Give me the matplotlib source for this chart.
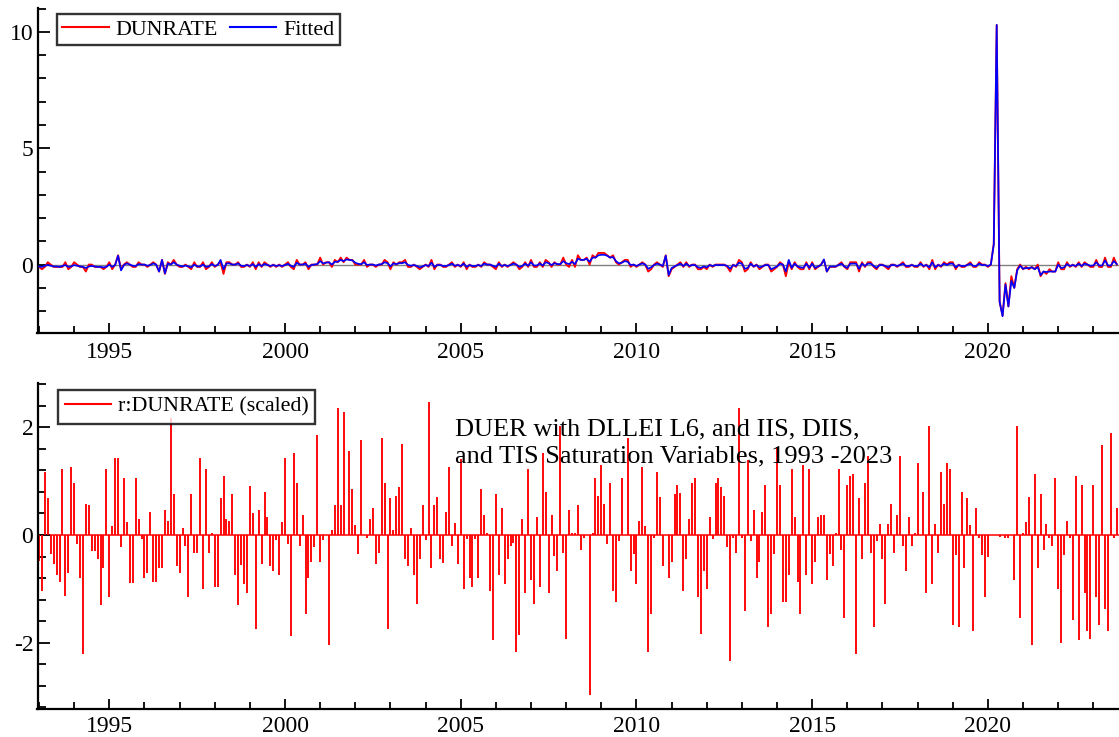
import numpy as np
import matplotlib
matplotlib.use("Agg")
import matplotlib.pyplot as plt
from matplotlib.ticker import MultipleLocator, FixedLocator
from matplotlib.lines import Line2D

plt.rcParams['font.family'] = ['Liberation Serif', 'DejaVu Serif']
plt.rcParams['axes.unicode_minus'] = False

# ---------------- data (monthly, 1993(1) - 2023(9)) ----------------
start_year = 1993

dunrate = [
    -0.1, -0.2, -0.1, 0.1, 0.0, -0.1, -0.1, -0.1, -0.1, 0.1, -0.2, -0.1,   # 1993
    0.1, 0.0, -0.1, -0.1, -0.3, 0.0, 0.0, -0.1, -0.1, -0.1, -0.2, -0.1,    # 1994
    0.1, -0.2, 0.0, 0.4, -0.2, 0.0, 0.1, 0.0, -0.1, -0.1, 0.1, 0.0,        # 1995
    0.0, -0.1, 0.0, 0.1, 0.0, -0.3, 0.2, -0.4, 0.1, 0.0, 0.2, 0.0,         # 1996
    -0.1, -0.1, 0.0, -0.1, -0.2, 0.1, -0.1, -0.1, 0.1, -0.2, -0.1, 0.1,    # 1997
    -0.1, 0.0, 0.1, -0.4, 0.1, 0.1, 0.0, 0.0, 0.1, -0.1, -0.1, 0.0,        # 1998
    -0.1, 0.1, -0.2, 0.1, -0.1, 0.1, 0.0, -0.1, 0.0, -0.1, 0.0, -0.1,      # 1999
    0.0, 0.1, -0.1, -0.2, 0.2, 0.0, 0.0, 0.1, -0.2, 0.0, 0.0, 0.0,         # 2000
    0.3, 0.0, 0.1, 0.1, -0.1, 0.2, 0.1, 0.3, 0.1, 0.3, 0.2, 0.2,           # 2001
    0.0, 0.0, 0.0, 0.2, -0.1, 0.0, 0.0, -0.1, 0.0, 0.0, 0.2, 0.1,          # 2002
    -0.2, 0.1, 0.0, 0.1, 0.1, 0.2, -0.1, -0.1, 0.0, -0.1, -0.2, -0.1,      # 2003
    0.0, -0.1, 0.2, -0.2, 0.0, 0.0, -0.1, -0.1, 0.0, 0.1, -0.1, 0.0,       # 2004
    -0.1, 0.1, -0.2, 0.0, -0.1, -0.1, 0.0, -0.1, 0.1, 0.0, 0.0, -0.1,      # 2005
    -0.2, 0.1, -0.1, 0.0, -0.1, 0.0, 0.1, 0.0, -0.2, -0.1, 0.1, -0.1,      # 2006
    0.2, -0.1, -0.1, 0.1, -0.1, 0.2, 0.1, -0.1, 0.1, 0.0, 0.0, 0.3,        # 2007
    0.0, -0.1, 0.2, -0.1, 0.4, 0.2, 0.2, 0.3, 0.0, 0.4, 0.3, 0.5,          # 2008
    0.5, 0.5, 0.4, 0.3, 0.4, 0.1, 0.0, 0.1, 0.2, 0.2, -0.1, 0.0,           # 2009
    -0.1, 0.0, 0.1, 0.0, -0.3, -0.2, 0.0, 0.1, 0.0, -0.1, 0.4, -0.5,       # 2010
    -0.2, -0.1, 0.0, 0.1, -0.1, 0.1, -0.1, 0.0, 0.0, -0.2, -0.2, -0.1,     # 2011
    -0.2, 0.0, -0.1, 0.0, 0.0, 0.0, 0.0, -0.1, -0.3, 0.0, -0.1, 0.2,       # 2012
    0.1, -0.3, -0.2, 0.1, -0.1, 0.0, -0.2, -0.1, 0.0, 0.0, -0.3, -0.2,     # 2013
    -0.1, 0.1, 0.0, -0.5, 0.1, -0.2, 0.1, -0.1, -0.2, -0.2, 0.1, -0.2,     # 2014
    0.1, -0.2, -0.1, 0.0, 0.2, -0.3, -0.1, -0.1, -0.1, 0.0, 0.1, -0.1,     # 2015
    -0.2, 0.1, 0.1, 0.1, -0.3, 0.1, -0.1, 0.1, 0.1, -0.1, -0.2, 0.0,       # 2016
    0.0, -0.1, -0.2, 0.0, 0.0, -0.1, 0.0, 0.1, -0.1, -0.1, 0.0, -0.1,      # 2017
    -0.1, 0.1, -0.1, 0.0, -0.2, 0.2, -0.2, 0.0, -0.1, 0.1, 0.0, 0.1,       # 2018
    0.1, -0.2, 0.0, -0.1, -0.1, 0.0, 0.1, -0.1, -0.1, 0.1, 0.0, 0.0,       # 2019
    -0.1, 0.0, 0.9, 10.3, -1.6, -2.2, -0.8, -1.8, -0.5, -1.0, -0.2, 0.0,   # 2020
    -0.2, -0.1, -0.2, -0.1, -0.2, 0.0, -0.5, -0.3, -0.4, -0.2, -0.3, -0.3, # 2021
    0.1, -0.2, -0.2, 0.1, -0.1, 0.0, -0.1, 0.1, -0.1, 0.1, 0.0, -0.1,      # 2022
    -0.1, 0.2, -0.1, -0.1, 0.3, -0.1, -0.1, 0.3, 0.0,                      # 2023
]

fitted = [
    -0.08, -0.10, -0.05, -0.02, -0.05, -0.08, -0.08, -0.10, -0.06, -0.02, -0.10, -0.08,  # 1993
    -0.02, -0.05, -0.08, -0.10, -0.15, -0.08, -0.06, -0.08, -0.10, -0.10, -0.12, -0.10,  # 1994
    0.00, -0.10, -0.02, 0.38, -0.25, -0.02, 0.05, 0.00, -0.05, -0.06, 0.02, 0.00,        # 1995
    0.00, -0.05, -0.02, 0.05, 0.00, -0.30, 0.20, -0.38, 0.05, 0.00, 0.10, 0.00,          # 1996
    -0.05, -0.08, -0.04, -0.08, -0.12, 0.00, -0.08, -0.08, 0.00, -0.10, -0.08, 0.02,     # 1997
    -0.06, -0.02, 0.20, -0.20, 0.05, 0.05, 0.00, 0.00, 0.05, -0.05, -0.06, -0.02,        # 1998
    -0.06, 0.02, -0.10, 0.02, -0.06, 0.03, -0.02, -0.06, -0.02, -0.06, -0.03, -0.06,     # 1999
    -0.02, 0.03, -0.05, -0.10, 0.08, 0.00, 0.00, 0.04, -0.10, -0.02, 0.00, 0.02,         # 2000
    0.15, 0.05, 0.08, 0.10, 0.00, 0.12, 0.12, 0.20, 0.15, 0.22, 0.20, 0.18,              # 2001
    0.08, 0.03, 0.02, 0.10, -0.02, 0.00, 0.00, -0.04, 0.00, 0.02, 0.10, 0.06,            # 2002
    -0.08, 0.05, 0.02, 0.06, 0.06, 0.10, -0.02, -0.05, -0.02, -0.06, -0.12, -0.08,       # 2003
    -0.02, -0.06, 0.08, -0.10, -0.02, -0.02, -0.06, -0.06, -0.02, 0.04, -0.05, -0.02,    # 2004
    -0.06, 0.04, -0.10, -0.02, -0.06, -0.06, -0.02, -0.06, 0.04, 0.00, 0.00, -0.05,      # 2005
    -0.10, 0.04, -0.06, -0.02, -0.06, -0.02, 0.04, 0.00, -0.10, -0.06, 0.04, -0.05,      # 2006
    0.10, -0.04, -0.04, 0.05, -0.04, 0.10, 0.06, -0.02, 0.06, 0.02, 0.02, 0.15,          # 2007
    0.06, 0.02, 0.12, 0.02, 0.25, 0.20, 0.20, 0.25, 0.12, 0.30, 0.30, 0.40,              # 2008
    0.42, 0.42, 0.38, 0.30, 0.32, 0.15, 0.05, 0.08, 0.15, 0.12, -0.02, 0.00,             # 2009
    -0.06, 0.00, 0.05, 0.00, -0.18, -0.12, -0.02, 0.04, 0.00, -0.06, 0.38, -0.45,        # 2010
    -0.15, -0.08, -0.02, 0.04, -0.06, 0.04, -0.06, -0.02, -0.02, -0.12, -0.14, -0.08,    # 2011
    -0.12, -0.02, -0.06, -0.02, -0.02, -0.02, -0.02, -0.06, -0.18, -0.02, -0.06, 0.08,   # 2012
    0.04, -0.18, -0.14, 0.04, -0.08, -0.02, -0.12, -0.08, -0.02, -0.02, -0.20, -0.14,    # 2013
    -0.08, 0.04, 0.00, -0.30, 0.20, -0.14, 0.04, -0.08, -0.12, -0.14, 0.04, -0.14,       # 2014
    0.04, -0.14, -0.08, -0.02, 0.22, -0.30, -0.08, -0.08, -0.08, -0.02, 0.04, -0.08,     # 2015
    -0.14, 0.04, 0.04, 0.04, -0.18, 0.04, -0.06, 0.04, 0.04, -0.06, -0.14, -0.02,        # 2016
    -0.02, -0.06, -0.12, -0.02, -0.02, -0.06, -0.02, 0.04, -0.06, -0.06, -0.02, -0.06,   # 2017
    -0.06, 0.04, -0.06, -0.02, -0.12, 0.10, -0.12, -0.02, -0.06, 0.04, -0.02, 0.04,      # 2018
    0.04, -0.12, -0.02, -0.06, -0.06, -0.02, 0.04, -0.06, -0.06, 0.04, -0.02, -0.02,     # 2019
    -0.06, 0.00, 0.86, 10.30, -1.60, -2.22, -0.86, -1.80, -0.70, -1.00, -0.25, -0.05,    # 2020
    -0.18, -0.15, -0.15, -0.12, -0.20, -0.10, -0.45, -0.30, -0.32, -0.30, -0.30, -0.30,  # 2021
    0.00, -0.15, -0.12, 0.02, -0.06, -0.02, -0.06, 0.04, -0.06, 0.04, 0.00, -0.05,       # 2022
    -0.04, 0.10, -0.04, -0.04, 0.18, -0.04, -0.04, 0.15, 0.02,                           # 2023
]

resid_scaled = [
    -0.48, -1.05, 1.18, 0.68, -0.36, -0.53, -0.74, -0.87, 1.23, -1.13, -0.70, 1.26,   # 1993
    0.96, -0.16, -0.80, -2.21, 0.58, 0.55, -0.30, -0.30, -0.45, -1.30, -0.62, 1.23,   # 1994
    -1.16, 0.17, 1.43, 1.43, -0.23, 1.06, 0.25, -0.90, -0.90, 1.06, 0.30, -0.08,      # 1995
    -0.79, -0.70, 0.43, -0.87, -0.87, -0.62, -0.62, 0.47, 0.26, 2.17, 0.76, -0.58,    # 1996
    -0.70, 0.13, -0.20, -1.16, 0.76, -0.33, -0.33, 1.43, -1.00, 1.23, -0.33, 0.04,    # 1997
    -0.96, -0.96, 0.68, 1.09, 0.30, 0.26, 0.76, -0.75, -1.30, -0.55, -0.92, -1.08,    # 1998
    0.92, 0.41, -1.75, 0.47, -0.53, 0.80, 0.33, -0.58, -0.66, -0.10, -0.75, 0.25,     # 1999
    1.43, -0.16, -1.88, 1.52, 0.96, -0.20, 0.38, -1.46, -0.79, -0.50, -0.23, 1.86,    # 2000
    -0.50, -0.10, 0.00, -2.04, 0.09, 0.55, 2.36, 0.55, 2.28, 0.00, 1.56, 0.85,        # 2001
    0.18, -0.36, 1.77, 0.00, -0.05, 0.30, 0.51, -0.53, -0.33, 1.81, 0.97, -1.75,      # 2002
    0.68, 0.10, 0.72, 0.89, 1.69, -0.45, -0.58, 0.13, -0.75, -1.29, -0.45, 0.55,      # 2003
    -0.10, 2.48, -0.62, 0.55, 0.71, -0.45, -0.52, 0.43, 1.26, -0.20, 0.22, -0.53,     # 2004
    1.42, -1.00, -0.08, -0.79, -0.96, -0.08, -0.79, 0.85, 0.38, 0.03, -1.04, -1.96,   # 2005
    0.76, -0.75, 0.51, -0.91, -0.45, -0.20, -0.15, -2.17, -1.86, 0.29, -1.08, 1.23,   # 2006
    -0.83, -1.29, 0.33, -0.96, 1.52, 0.80, -1.08, 0.38, -0.39, -0.66, 2.02, -0.33,    # 2007
    -1.93, 0.46, 0.03, 0.03, 0.55, -0.28, -0.05, 0.00, -2.97, 0.03, 1.06, 0.72,       # 2008
    1.31, 0.58, -0.16, 0.97, -1.05, -1.25, -0.12, 1.06, 0.00, 1.81, -0.66, -0.36,     # 2009
    -0.91, 0.26, 1.26, 0.16, -2.17, -1.46, -0.05, 1.18, 0.71, -0.58, 0.00, -0.79,     # 2010
    -0.50, 0.76, 0.93, 0.79, -1.04, -0.45, 0.30, 0.96, 1.06, -1.16, -1.84, -0.66,     # 2011
    -1.00, 0.33, -0.08, 0.96, 1.06, 0.89, 0.72, -0.23, -2.34, -0.05, -0.33, 2.36,     # 2012
    -0.05, -1.42, 1.39, -0.12, 0.46, -0.79, -0.50, 0.43, 0.93, -1.71, -1.46, -0.36,   # 2013
    1.64, 0.93, -1.25, -1.25, -0.75, 1.23, 0.33, -0.87, -1.46, 1.31, -0.75, 1.23,     # 2014
    -0.91, -0.50, 0.33, 0.38, 0.38, -0.83, -0.36, -0.58, 0.03, 1.23, -0.28, -1.54,   # 2015
    0.93, 1.10, 1.14, -2.21, 0.68, -0.45, 0.96, 1.47, -0.33, -1.71, -0.12, 0.21,      # 2016
    -0.45, -1.29, 0.21, 0.58, -0.33, 0.38, 1.47, -0.20, -0.66, 0.33, -0.20, 0.03,     # 2017
    1.34, 0.00, 0.80, -1.08, 2.02, -0.91, 0.21, -0.33, 1.18, 0.58, 1.34, 1.23,        # 2018
    -1.68, -0.37, -1.71, 0.80, -0.62, 0.68, 0.18, -1.79, 0.51, -0.05, -0.37, -1.16,   # 2019
    -0.41, 0.00, 0.00, 0.00, -0.03, 0.00, -0.05, -0.05, 0.00, -0.83, 2.02, -1.54,     # 2020
    0.03, 0.24, 0.71, -2.04, 1.14, -0.62, 0.76, -0.28, 0.21, -0.05, -0.20, 1.06,      # 2021
    -1.00, -2.00, -0.37, 0.26, -0.05, -1.58, 1.09, -1.96, 0.93, -1.08, -1.79, -1.93,  # 2022
    0.93, -1.16, -1.67, 1.67, -1.38, -1.79, 1.89, -0.05, 0.51,                        # 2023
]

series_labels = ["DUNRATE", "Fitted"]
resid_label = "r:DUNRATE (scaled)"
year_ticks = [1995, 2000, 2005, 2010, 2015, 2020]
top_yticks = [0, 5, 10]
bottom_yticks = [-2, 0, 2]
note_lines = ["DUER with DLLEI L6, and IIS, DIIS,",
              "and TIS Saturation Variables, 1993 -2023"]

# ---------------- figure ----------------
n = len(dunrate)
t = start_year + np.arange(n) / 12.0

W, H = 1119, 737
fig = plt.figure(figsize=(W / 100, H / 100), dpi=100)
fig.patch.set_facecolor('white')


def rect(x0, y0, x1, y1):
    return [x0 / W, 1 - y1 / H, (x1 - x0) / W, (y1 - y0) / H]


ax1 = fig.add_axes(rect(37.5, 8, 1119, 332.5))
ax2 = fig.add_axes(rect(37.5, 383.3, 1119, 709.3))

RED = '#ff0000'
BLUE = '#0000ff'

# top panel
ax1.axhline(0, color='#808080', lw=1.0, zorder=1)
ax1.plot(t, dunrate, color=RED, lw=1.35, zorder=2)
ax1.plot(t, fitted, color=BLUE, lw=1.25, zorder=3)
ax1.set_ylim(-2.92, 11.03)
ax1.yaxis.set_major_locator(FixedLocator(top_yticks))
ax1.yaxis.set_minor_locator(MultipleLocator(1))

# bottom panel
ax2.axhline(0, color=RED, lw=1.1, zorder=1)
ax2.vlines(t, 0, resid_scaled, colors=RED, lw=1.35, zorder=2)
ax2.set_ylim(-3.24, 2.82)
ax2.yaxis.set_major_locator(FixedLocator(bottom_yticks))
ax2.yaxis.set_minor_locator(MultipleLocator(0.4))

for ax, xpad in ((ax1, 7), (ax2, 4.5)):
    ax.set_xlim(1992.957, 2023.73)
    ax.xaxis.set_major_locator(FixedLocator(year_ticks))
    ax.xaxis.set_minor_locator(MultipleLocator(1))
    ax.set_xticklabels([str(y) for y in year_ticks])
    for s in ('top', 'right'):
        ax.spines[s].set_visible(False)
    for s in ('left', 'bottom'):
        ax.spines[s].set_linewidth(1.6)
        ax.spines[s].set_color('black')
    ax.tick_params(which='both', direction='in', top=False, right=False,
                   width=1.3, colors='black', labelsize=17)
    ax.tick_params(axis='x', which='major', length=7, pad=xpad)
    ax.tick_params(axis='x', which='minor', length=5)
    ax.tick_params(axis='y', which='major', length=8.5, pad=3)
    ax.tick_params(axis='y', which='minor', length=6)
    ax.set_facecolor('white')

# legends
h1 = [Line2D([], [], color=RED, lw=1.5), Line2D([], [], color=BLUE, lw=1.5)]
leg1 = ax1.legend(h1, series_labels, loc='upper left',
                  bbox_to_anchor=(57 / W, 1 - 14 / H), bbox_transform=fig.transFigure,
                  ncol=2, frameon=True, fancybox=False, edgecolor='black',
                  fontsize=15.8, handlelength=2.1, handletextpad=0.33,
                  columnspacing=0.55, borderpad=0.25, borderaxespad=0)
leg1.get_frame().set_linewidth(1.7)

h2 = [Line2D([], [], color=RED, lw=1.5)]
leg2 = ax2.legend(h2, [resid_label], loc='upper left',
                  bbox_to_anchor=(58 / W, 1 - 390 / H), bbox_transform=fig.transFigure,
                  frameon=True, fancybox=False, edgecolor='black',
                  fontsize=15.8, handlelength=2.1, handletextpad=0.33,
                  borderpad=0.3, borderaxespad=0)
leg2.get_frame().set_linewidth(1.7)

# annotation
fig.text(455 / W, 1 - 435 / H, note_lines[0], fontsize=19, ha='left', va='baseline',
         color='black', zorder=1)
fig.text(455 / W, 1 - 462 / H, note_lines[1], fontsize=19, ha='left', va='baseline',
         color='black', zorder=1)

fig.savefig('out.png', dpi=100, facecolor='white')
